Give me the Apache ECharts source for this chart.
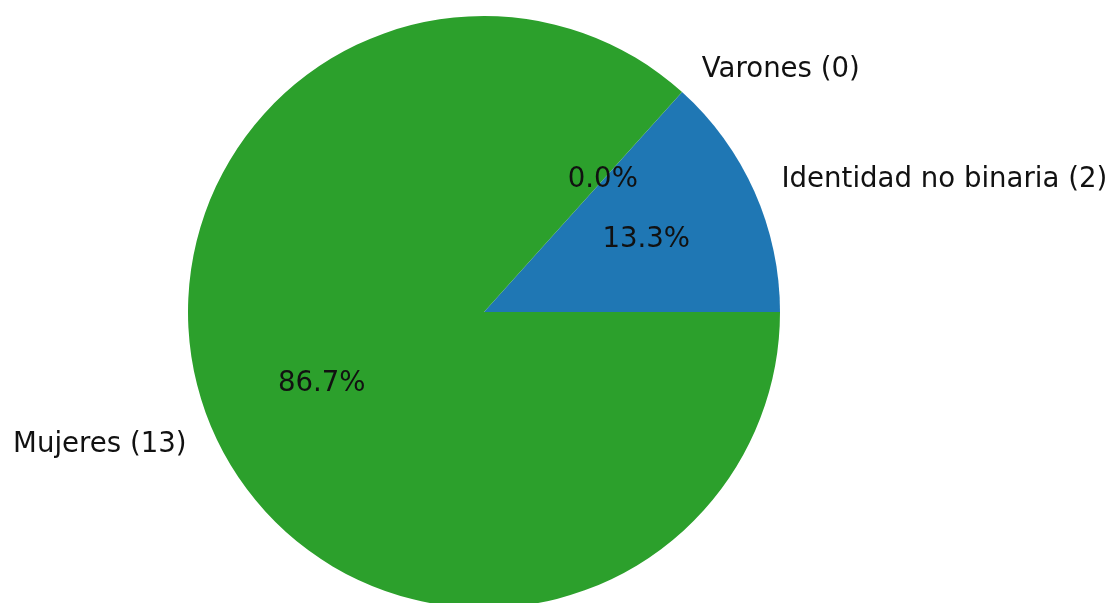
<!DOCTYPE html>
<html>
<head>
<meta charset="utf-8">
<script src="https://cdn.jsdelivr.net/npm/echarts@6/dist/echarts.min.js"></script>
<style>
html,body{margin:0;padding:0;background:#fff;}
#chart{width:1115px;height:603px;}
</style>
</head>
<body>
<div id="chart"></div>
<script>
const categories = ['Identidad no binaria', 'Varones', 'Mujeres'];
const values = [2, 0, 13];
const colors = ['#1f77b4', '#ff7f0e', '#2ca02c'];

const total = values.reduce((a, b) => a + b, 0);
const R = 296;
const center = [484, 312];
const font = 'DejaVu Sans';
const fs = 27.6;

const chart = echarts.init(document.getElementById('chart'), null, {renderer: 'canvas'});
chart.setOption({
  animation: false,
  series: [
    {
      type: 'pie',
      center: center,
      radius: [0, R],
      startAngle: 0,
      clockwise: false,
      avoidLabelOverlap: false,
      silent: true,
      data: categories.map((c, i) => ({
        name: c, value: values[i], itemStyle: {color: colors[i]}
      })),
      label: {
        show: true,
        position: 'outside',
        formatter: p => p.name + ' (' + p.value + ')',
        color: '#111',
        fontFamily: font,
        fontSize: fs,
        padding: [4, 0, 0, 0],
        distanceToLabelLine: 0
      },
      labelLine: {show: false, length: R * 0.1, length2: 0}
    },
    {
      type: 'pie',
      center: center,
      radius: [0, R * 1.2 - 6],
      startAngle: 0,
      clockwise: false,
      avoidLabelOverlap: false,
      silent: true,
      data: categories.map((c, i) => ({
        name: c, value: values[i], itemStyle: {color: 'rgba(0,0,0,0)'}
      })),
      label: {
        show: true,
        position: 'inside',
        formatter: p => (p.value / total * 100).toFixed(1) + '%',
        color: '#111',
        fontFamily: font,
        fontSize: fs,
        padding: [4, 0, 0, 0]
      },
      labelLine: {show: false}
    }
  ]
});
</script>
</body>
</html>
